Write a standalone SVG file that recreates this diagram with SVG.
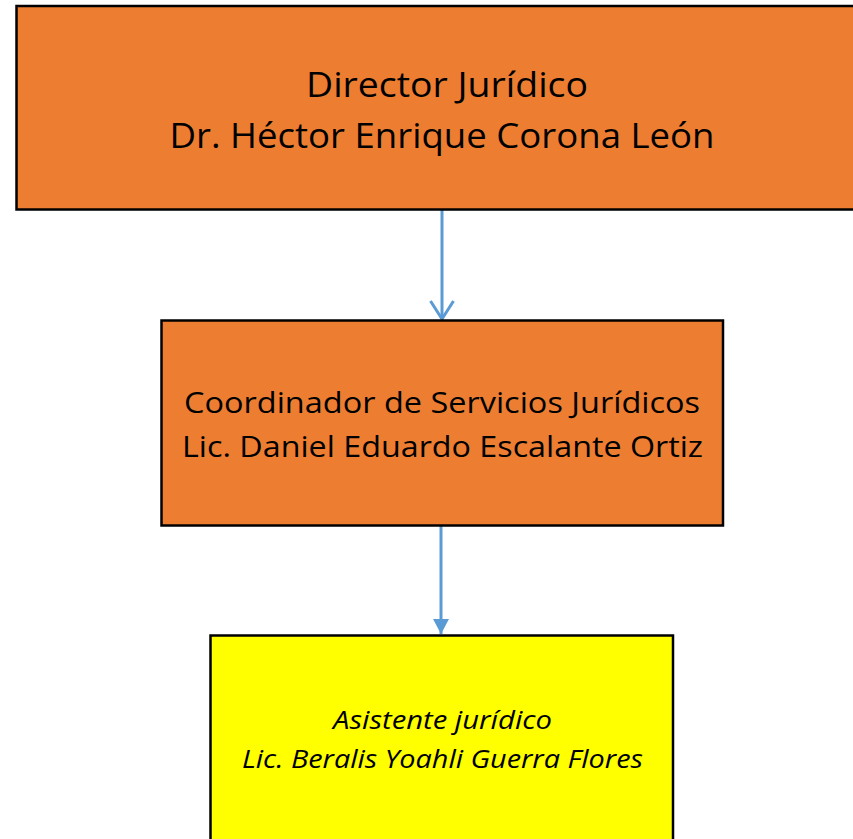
<svg xmlns="http://www.w3.org/2000/svg" width="853" height="839" viewBox="0 0 853 839">
<defs>
<style>
.box{stroke:#000;stroke-width:2.5}
.org{fill:#ED7D31}
.yel{fill:#FFFF00}
.t{font-family:"Open Sans","Liberation Sans",sans-serif;fill:#000;text-anchor:middle}
.it{font-style:italic}
.conn{stroke:#5B9BD5;stroke-width:3;fill:none}
</style>
<marker id="open" viewBox="0 0 26 26" refX="23" refY="13" markerWidth="26" markerHeight="26" markerUnits="userSpaceOnUse" orient="auto">
<path d="M5,1.5 L23,13 L5,24.5" fill="none" stroke="#5B9BD5" stroke-width="3"/>
</marker>
<marker id="fill" viewBox="0 0 24 24" refX="22" refY="12" markerWidth="24" markerHeight="24" markerUnits="userSpaceOnUse" orient="auto">
<path d="M7,4 L22,12 L7,20 Z" fill="#5B9BD5"/>
</marker>
</defs>
<rect width="853" height="839" fill="#fff"/>
<g id="connectors">
<line class="conn" x1="442" y1="210" x2="442" y2="319" marker-end="url(#open)"/>
<line class="conn" x1="441" y1="526" x2="441" y2="634" marker-end="url(#fill)"/>
</g>
<g id="director">
<rect class="box org" x="16.5" y="6" width="850" height="203.5"/>
<text class="t" x="447" y="97" font-size="34" textLength="282" lengthAdjust="spacingAndGlyphs">Director Jurídico</text>
<text class="t" x="442" y="148" font-size="34" textLength="545" lengthAdjust="spacingAndGlyphs">Dr. Héctor Enrique Corona León</text>
</g>
<g id="coordinador">
<rect class="box org" x="161.5" y="320.5" width="561.5" height="205"/>
<text class="t" x="442" y="413" font-size="30" textLength="516" lengthAdjust="spacingAndGlyphs">Coordinador de Servicios Jurídicos</text>
<text class="t" x="442.5" y="457" font-size="30" textLength="521" lengthAdjust="spacingAndGlyphs">Lic. Daniel Eduardo Escalante Ortiz</text>
</g>
<g id="asistente">
<rect class="box yel" x="210.5" y="635.5" width="462.5" height="220"/>
<text class="t it" x="442.5" y="729" font-size="25" textLength="219" lengthAdjust="spacingAndGlyphs">Asistente jurídico</text>
<text class="t it" x="442.5" y="768" font-size="25" textLength="401" lengthAdjust="spacingAndGlyphs">Lic. Beralis Yoahli Guerra Flores</text>
</g>
</svg>
